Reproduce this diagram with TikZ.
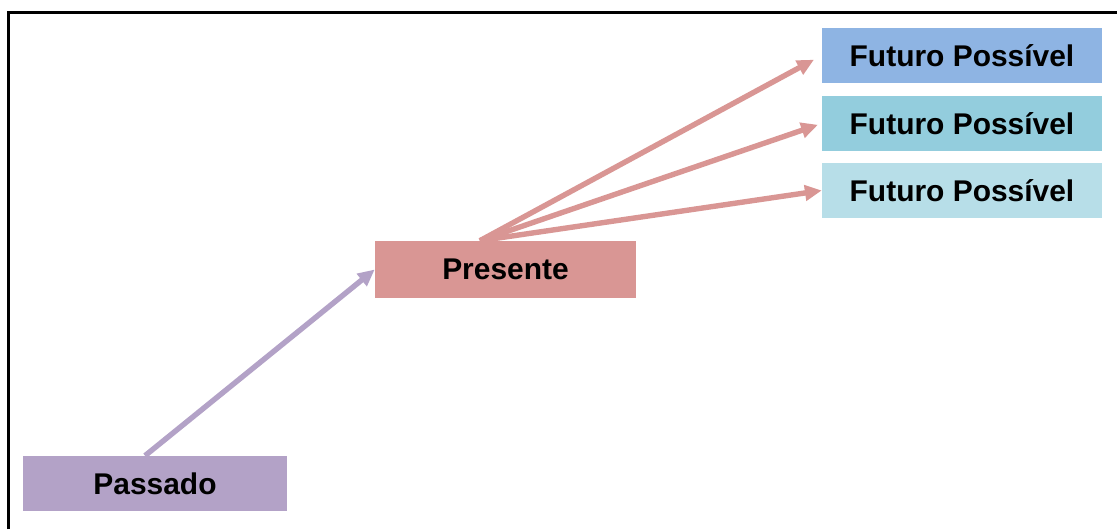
\documentclass[tikz,border=0pt]{standalone}
\usepackage{fontspec}
\setmainfont{Liberation Sans}
\usetikzlibrary{arrows.meta,calc,positioning}
\definecolor{TLPast}{HTML}{B3A2C7}
\definecolor{TLNow}{HTML}{D99694}
\definecolor{TLFutA}{HTML}{8EB4E3}
\definecolor{TLFutB}{HTML}{93CDDD}
\definecolor{TLFutC}{HTML}{B7DEE8}

\begin{document}
\begin{tikzpicture}[
  x=1cm,y=1cm,
  frame/.style={draw=black,line width=0.075cm},
  flow/.style={-{Triangle[length=0.42cm,width=0.38cm]},line width=0.135cm},
  stage/.style={draw=none,inner sep=0pt,minimum height=1.375cm,
    font=\bfseries\fontsize{21.3}{25}\selectfont,text=black},
  pastbox/.style={stage,fill=TLPast,minimum width=6.6cm},
  nowbox/.style={stage,fill=TLNow,minimum width=6.525cm,minimum height=1.425cm},
  futbox/.style={stage,minimum width=7.0cm}
]
\useasboundingbox (0,0) rectangle (27.925,13.225);

% open frame: only the top and left edges show
\draw[frame] (0.2125,0) -- (0.2125,12.9125) -- (27.925,12.9125);

\node[pastbox] (past) at (3.875,1.1375) {Passado};
\node[nowbox] (now) at (12.6375,6.4875) {Presente};

\node[futbox,fill=TLFutA] (futA) at (24.05,11.8375) {Futuro Possível};
\node[futbox,fill=TLFutB] (futB) at (24.05,10.1375) {Futuro Possível};
\node[futbox,fill=TLFutC] (futC) at (24.05,8.4625) {Futuro Possível};

% the three futures branch from one point on top of the present
\coordinate (fork) at ($(now.north)+(-0.64,0)$);
\coordinate (root) at ($(past.north)+(-0.25,0)$);

\draw[flow,TLPast] (root) -- (now.west);
\draw[flow,TLNow,shorten >=0.22cm] (fork) -- (futA.west);
\draw[flow,TLNow,shorten >=0.1cm] (fork) -- (futB.west);
\draw[flow,TLNow] (fork) -- (futC.west);

\end{tikzpicture}
\end{document}
